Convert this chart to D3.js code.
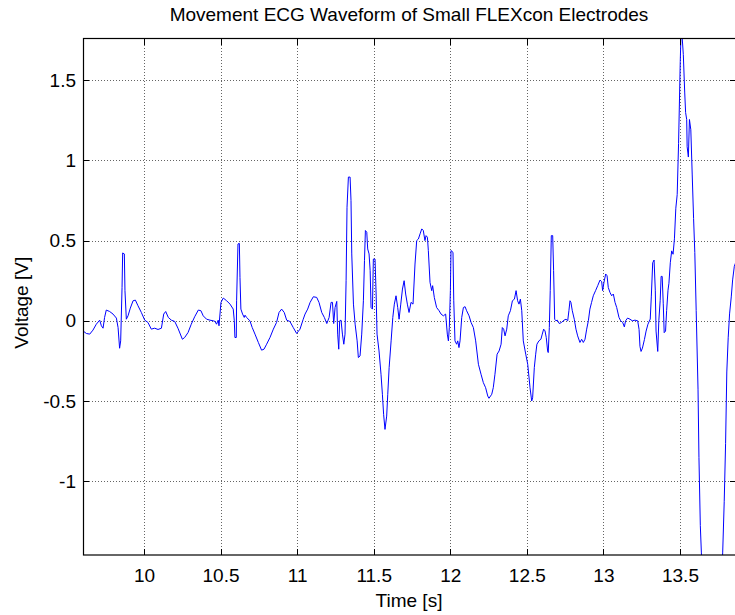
<!DOCTYPE html>
<html><head><meta charset="utf-8">
<script src="https://cdn.jsdelivr.net/npm/d3@7"></script>
<style>
body{margin:0;background:#fff}
text{font-family:"Liberation Sans",Arial,Helvetica,sans-serif;fill:#000}
</style>
</head><body>
<svg id="chart" width="735" height="615"></svg>
<script>
const chartTitle = "Movement ECG Waveform of Small FLEXcon Electrodes";
const xLabel = "Time [s]";
const yLabel = "Voltage [V]";
const xDomain = [9.602, 13.866];
const yDomain = [-1.46, 1.76];
const xTicks = [10, 10.5, 11, 11.5, 12, 12.5, 13, 13.5];
const yTicks = [-1, -0.5, 0, 0.5, 1, 1.5];

// [time (s), voltage (V)]
const ecgTrace = [
[9.595,-0.06],[9.602,-0.063],[9.624,-0.079],[9.646,-0.083],[9.667,-0.058],[9.689,-0.021],[9.711,0.004],[9.722,-0.031],[9.733,-0.046],[9.743,0.021],[9.754,0.067],[9.776,0.058],[9.798,0.042],[9.820,0.017],[9.831,-0.042],[9.841,-0.171],[9.848,-0.125],[9.857,0.208],[9.861,0.423],[9.872,0.417],[9.876,0.188],[9.885,0.010],[9.896,0.031],[9.911,0.079],[9.929,0.125],[9.944,0.129],[9.961,0.094],[9.983,0.052],[10.005,0.004],[10.026,-0.010],[10.048,-0.052],[10.070,-0.046],[10.092,-0.054],[10.114,-0.046],[10.129,0.042],[10.142,0.058],[10.159,0.021],[10.179,0.004],[10.201,-0.004],[10.222,-0.046],[10.251,-0.115],[10.266,-0.104],[10.288,-0.073],[10.309,-0.021],[10.331,0.025],
[10.355,0.067],[10.372,0.063],[10.387,0.031],[10.409,0.010],[10.431,0.004],[10.453,0.000],[10.464,-0.004],[10.474,-0.021],[10.485,0.004],[10.490,-0.031],[10.503,0.115],[10.518,0.142],[10.540,0.125],[10.562,0.104],[10.583,0.073],[10.590,0.0],[10.594,-0.104],[10.603,-0.104],[10.605,0.125],[10.614,0.479],[10.623,0.483],[10.627,0.271],[10.633,0.073],[10.644,0.042],[10.655,0.021],[10.660,0.035],[10.670,0.021],[10.692,0.0],[10.707,-0.042],[10.725,-0.083],[10.747,-0.135],[10.768,-0.183],[10.784,-0.177],[10.801,-0.146],[10.823,-0.104],[10.845,-0.052],[10.866,-0.010],[10.882,0.052],[10.899,0.073],[10.916,0.052],[10.932,0.004],[10.953,-0.004],[10.975,-0.042],[10.997,-0.079],[11.019,-0.052],[11.040,0.010],
[11.052,0.042],[11.069,0.073],[11.085,0.115],[11.106,0.150],[11.128,0.146],[11.143,0.115],[11.161,0.052],[11.178,0.021],[11.194,-0.017],[11.209,0.021],[11.222,0.115],[11.231,0.115],[11.239,-0.017],[11.248,0.083],[11.259,0.121],[11.265,-0.083],[11.272,-0.177],[11.278,0.0],[11.287,0.004],[11.296,-0.083],[11.305,-0.146],[11.313,-0.083],[11.320,0.250],[11.326,0.708],[11.335,0.896],[11.346,0.896],[11.352,0.750],[11.357,0.417],[11.368,0.104],[11.379,-0.021],[11.392,-0.125],[11.400,-0.229],[11.411,-0.219],[11.422,-0.083],[11.433,0.125],[11.440,0.375],[11.446,0.563],[11.455,0.552],[11.461,0.448],[11.470,0.417],[11.477,0.313],[11.483,0.083],[11.492,0.073],[11.498,0.385],[11.509,0.385],[11.516,0.167],[11.522,-0.083],[11.535,-0.188],[11.548,-0.333],[11.557,-0.458],[11.565,-0.583],[11.574,-0.677],[11.585,-0.594],[11.592,-0.458],[11.601,-0.292],[11.614,-0.125],[11.625,0.021],[11.635,0.104],[11.646,0.156],[11.657,0.083],[11.666,0.010],[11.677,0.104],[11.688,0.198],[11.699,0.250],[11.709,0.167],[11.720,0.104],[11.731,0.052],[11.744,0.115],[11.757,0.104],[11.770,0.354],[11.781,0.500],
[11.792,0.510],[11.803,0.542],[11.814,0.573],[11.824,0.563],[11.835,0.500],[11.842,0.531],[11.851,0.521],[11.857,0.438],[11.868,0.240],[11.879,0.188],[11.885,0.219],[11.896,0.146],[11.911,0.083],[11.927,0.063],[11.940,0.042],[11.955,0.031],[11.970,0.042],[11.981,-0.083],[11.988,-0.125],[11.994,-0.042],[12.001,0.188],[12.005,0.438],[12.018,0.427],[12.023,0.125],[12.031,-0.125],[12.042,-0.146],[12.049,-0.125],[12.057,-0.167],[12.064,-0.125],[12.075,0.021],[12.086,0.083],[12.097,0.088],[12.107,0.063],[12.123,0.031],[12.136,-0.010],[12.151,-0.042],[12.166,-0.125],[12.184,-0.271],[12.201,-0.333],[12.216,-0.385],[12.231,-0.417],[12.245,-0.469],[12.253,-0.483],[12.271,-0.458],[12.281,-0.417],[12.292,-0.333],[12.306,-0.208],[12.319,-0.188],[12.332,-0.146],[12.340,-0.042],[12.349,-0.052],[12.358,-0.094],[12.369,-0.052],[12.379,0.031],[12.393,0.063],[12.406,0.125],[12.419,0.135],[12.430,0.188],[12.440,0.125],[12.449,0.104],[12.458,0.135],[12.467,0.063],[12.477,-0.125],[12.493,-0.208],[12.506,-0.271],[12.521,-0.417],
[12.532,-0.500],[12.538,-0.480],[12.549,-0.292],[12.558,-0.208],[12.566,-0.146],[12.579,-0.125],[12.592,-0.115],[12.601,-0.083],[12.610,-0.052],[12.619,-0.063],[12.627,-0.104],[12.636,-0.188],[12.640,-0.198],[12.647,-0.042],[12.653,0.188],[12.660,0.531],[12.669,0.531],[12.675,0.313],[12.682,0.010],[12.690,0.0],[12.699,0.004],[12.712,-0.017],[12.727,-0.010],[12.743,0.004],[12.756,0.010],[12.767,0.0],[12.775,0.063],[12.782,0.125],[12.788,0.115],[12.797,0.063],[12.810,0.010],[12.821,-0.052],[12.832,-0.094],[12.847,-0.135],[12.858,-0.115],[12.869,-0.135],[12.880,-0.115],[12.891,-0.052],[12.902,0.0],[12.912,0.073],[12.923,0.115],[12.934,0.156],[12.949,0.188],[12.963,0.219],[12.978,0.254],[12.989,0.244],[12.995,0.188],[13.004,0.240],[13.015,0.292],[13.024,0.281],[13.032,0.208],[13.043,0.177],[13.054,0.156],[13.065,0.167],[13.076,0.115],[13.087,0.083],[13.102,0.021],[13.113,0.0],[13.126,-0.010],[13.137,-0.038],[13.145,0.0],[13.158,0.017],[13.174,0.010],[13.189,0.0],
[13.206,0.004],[13.224,0.0],[13.233,-0.053],[13.239,-0.160],[13.246,-0.191],[13.255,-0.170],[13.268,-0.117],[13.279,-0.064],[13.291,-0.021],[13.306,0.011],[13.313,0.149],[13.322,0.362],[13.331,0.379],[13.339,0.191],[13.344,-0.064],[13.355,-0.191],[13.362,0.0],[13.371,0.128],[13.377,0.277],[13.384,0.277],[13.391,0.106],[13.397,-0.074],[13.406,-0.064],[13.413,0.064],[13.422,0.191],[13.428,0.234],[13.437,0.362],[13.446,0.436],[13.455,0.415],[13.464,0.511],[13.473,0.702],[13.482,0.787],[13.491,1.106],[13.497,1.383],[13.502,1.617],[13.506,1.76],[13.515,1.76],[13.522,1.660],[13.531,1.426],[13.537,1.298],[13.544,1.255],[13.547,1.085],[13.555,1.021],[13.562,1.255],[13.571,1.191],[13.580,0.915],[13.589,0.638],[13.597,0.426],[13.606,0.064],[13.618,-0.426],[13.624,-0.851],[13.633,-1.277],[13.640,-1.447],[13.660,-1.9],[13.710,-2.3],[13.760,-1.9],[13.779,-1.447],[13.789,-1.128],[13.798,-0.766],[13.806,-0.319],[13.815,-0.106],[13.824,0.043],[13.835,0.149],[13.844,0.255],[13.855,0.340],[13.865,0.366]
];

const box = {left: 83, top: 38.5, right: 736, bottom: 555};
const tickLen = 6;
const fontSize = 19;

const svg = d3.select("#chart");
const x = d3.scaleLinear().domain(xDomain).range([box.left, box.right]);
const y = d3.scaleLinear().domain(yDomain).range([box.bottom, box.top]);

svg.append("rect").attr("width", 735).attr("height", 615).attr("fill", "#fff");

svg.append("defs").append("clipPath").attr("id", "plotClip")
  .append("rect").attr("x", box.left).attr("y", box.top)
  .attr("width", box.right - box.left).attr("height", box.bottom - box.top);

// grid
const grid = svg.append("g").attr("stroke", "#000").attr("stroke-width", 1)
  .attr("stroke-dasharray", "1,2").attr("opacity", 0.6).attr("shape-rendering", "crispEdges");
grid.selectAll(".gx").data(xTicks).join("line")
  .attr("x1", d => Math.round(x(d)) + 0.5).attr("x2", d => Math.round(x(d)) + 0.5)
  .attr("y1", box.top).attr("y2", box.bottom);
grid.selectAll(".gy").data(yTicks).join("line")
  .attr("y1", d => Math.round(y(d)) + 0.5).attr("y2", d => Math.round(y(d)) + 0.5)
  .attr("x1", box.left).attr("x2", box.right);

// trace
const line = d3.line().x(d => x(d[0])).y(d => y(d[1]));
svg.append("path").datum(ecgTrace)
  .attr("clip-path", "url(#plotClip)")
  .attr("fill", "none").attr("stroke", "#0000ff").attr("stroke-width", 1)
  .attr("stroke-linejoin", "round")
  .attr("d", line);

// axes with inward ticks (D3 axes, negative tick size)
const fmt = d => String(d);
const xAxisB = d3.axisBottom(x).tickValues(xTicks).tickSize(-tickLen).tickPadding(tickLen + 8).tickFormat(fmt);
const xAxisT = d3.axisTop(x).tickValues(xTicks).tickSize(-tickLen).tickFormat("");
const yAxisL = d3.axisLeft(y).tickValues(yTicks).tickSize(-tickLen).tickPadding(tickLen + 1).tickFormat(fmt);
const yAxisR = d3.axisRight(y).tickValues(yTicks).tickSize(-tickLen).tickFormat("");

function styleAxis(g) {
  g.select(".domain").remove();
  g.selectAll(".tick line").attr("stroke", "#000").attr("shape-rendering", "crispEdges");
  g.selectAll("text").attr("font-size", fontSize)
    .style("font-family", '"Liberation Sans", Arial, Helvetica, sans-serif');
}
svg.append("g").attr("transform", `translate(0,${box.bottom})`).call(xAxisB).call(styleAxis);
svg.append("g").attr("transform", `translate(0,${box.top})`).call(xAxisT).call(styleAxis);
svg.append("g").attr("transform", `translate(${box.left},0)`).call(yAxisL).call(styleAxis);
svg.append("g").attr("transform", `translate(${box.right},0)`).call(yAxisR).call(styleAxis);

// box
svg.append("rect").attr("x", box.left + 0.5).attr("y", box.top)
  .attr("width", box.right - box.left).attr("height", box.bottom - box.top)
  .attr("fill", "none").attr("stroke", "#000").attr("stroke-width", 1.2);

// labels
const cx = (box.left + 735) / 2;
svg.append("text").attr("x", cx).attr("y", 21).attr("text-anchor", "middle")
  .attr("font-size", fontSize).text(chartTitle);
svg.append("text").attr("x", cx).attr("y", 607).attr("text-anchor", "middle")
  .attr("font-size", fontSize).text(xLabel);
svg.append("text").attr("transform", `translate(28,${(box.top + box.bottom) / 2 + 6}) rotate(-90)`)
  .attr("text-anchor", "middle").attr("font-size", fontSize).text(yLabel);
</script>
</body></html>
